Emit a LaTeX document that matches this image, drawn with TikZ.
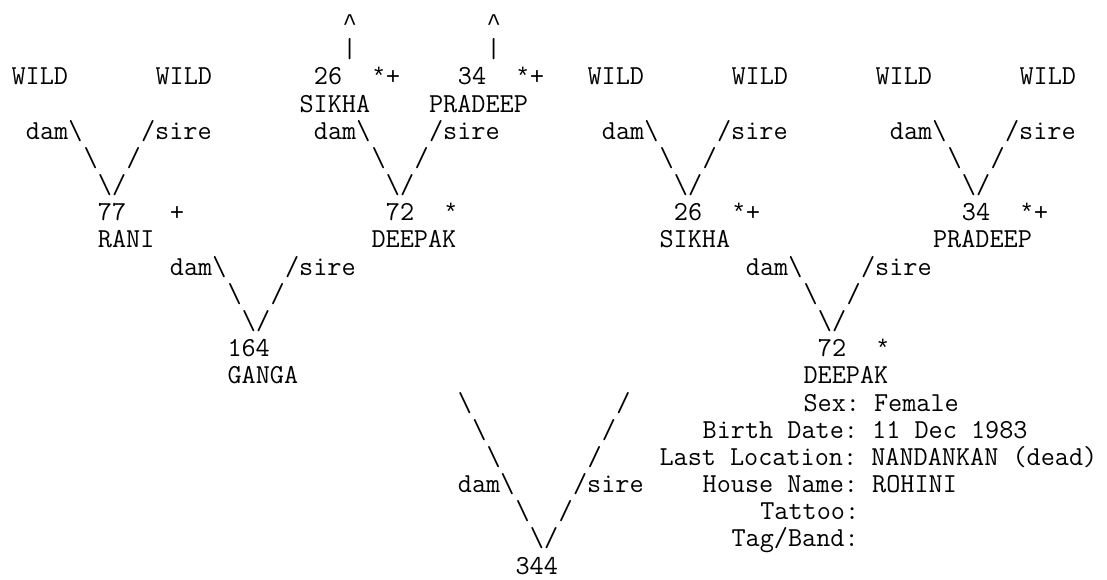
\documentclass[tikz,border=0pt]{standalone}
\usepackage{fontspec}
\newfontfamily\markfont{Liberation Mono}
\tikzstyle{asc}=[anchor=base west,inner sep=0pt,outer sep=0pt,text=black,font=\ttfamily\fontsize{20.5714}{22}\selectfont\frenchspacing]
\tikzstyle{mk}=[asc,font=\markfont\fontsize{18}{20}\selectfont]
\newcommand{\bs}{\textbackslash}
\begin{document}
\begin{tikzpicture}[x=10.8pt,y=-20.38pt]
\useasboundingbox (-8.625pt,22.95pt) rectangle (821.625pt,-411.3pt);
\node[mk] (up1) at (23,0) {\textasciicircum};
\node[mk] (up2) at (33,0) {\textasciicircum};
\node[asc] (bar1) at (23,1) {|};
\node[asc] (bar2) at (33,1) {|};
\node[asc] (wildA) at (0,2) {WILD};
\node[asc] (wildB) at (10,2) {WILD};
\node[asc] (idSikhaA) at (21,2) {26};
\node[mk] (flSikhaA) at (25,2) {*+};
\node[asc] (idPradeepA) at (31,2) {34};
\node[mk] (flPradeepA) at (35,2) {*+};
\node[asc] (wildC) at (40,2) {WILD};
\node[asc] (wildD) at (50,2) {WILD};
\node[asc] (wildE) at (60,2) {WILD};
\node[asc] (wildF) at (70,2) {WILD};
\node[asc] (nmSikhaA) at (20,3) {SIKHA};
\node[asc] (nmPradeepA) at (29,3) {PRADEEP};
\node[asc] (damA) at (1,4) {dam\bs};
\node[asc] (sireA) at (9,4) {/sire};
\node[asc] (damB) at (21,4) {dam\bs};
\node[asc] (sireB) at (29,4) {/sire};
\node[asc] (damC) at (41,4) {dam\bs};
\node[asc] (sireC) at (49,4) {/sire};
\node[asc] (damD) at (61,4) {dam\bs};
\node[asc] (sireD) at (69,4) {/sire};
\node[asc] (blA) at (5,5) {\bs};
\node[asc] (brA) at (8,5) {/};
\node[asc] (blB) at (25,5) {\bs};
\node[asc] (brB) at (28,5) {/};
\node[asc] (blC) at (45,5) {\bs};
\node[asc] (brC) at (48,5) {/};
\node[asc] (blD) at (65,5) {\bs};
\node[asc] (brD) at (68,5) {/};
\node[asc] (vA) at (6,6) {\bs/};
\node[asc] (vB) at (26,6) {\bs/};
\node[asc] (vC) at (46,6) {\bs/};
\node[asc] (vD) at (66,6) {\bs/};
\node[asc] (idRani) at (6,7) {77};
\node[mk] (flRani) at (11,7) {+};
\node[asc] (idDeepakA) at (26,7) {72};
\node[mk] (flDeepakA) at (30,7) {*};
\node[asc] (idSikhaB) at (46,7) {26};
\node[mk] (flSikhaB) at (50,7) {*+};
\node[asc] (idPradeepB) at (66,7) {34};
\node[mk] (flPradeepB) at (70,7) {*+};
\node[asc] (nmRani) at (6,8) {RANI};
\node[asc] (nmDeepakA) at (25,8) {DEEPAK};
\node[asc] (nmSikhaB) at (45,8) {SIKHA};
\node[asc] (nmPradeepB) at (64,8) {PRADEEP};
\node[asc] (damE) at (11,9) {dam\bs};
\node[asc] (sireE) at (19,9) {/sire};
\node[asc] (damF) at (51,9) {dam\bs};
\node[asc] (sireF) at (59,9) {/sire};
\node[asc] (blE) at (15,10) {\bs};
\node[asc] (brE) at (18,10) {/};
\node[asc] (blF) at (55,10) {\bs};
\node[asc] (brF) at (58,10) {/};
\node[asc] (vE) at (16,11) {\bs/};
\node[asc] (vF) at (56,11) {\bs/};
\node[asc] (idGanga) at (15,12) {164};
\node[asc] (idDeepakB) at (56,12) {72};
\node[mk] (flDeepakB) at (60,12) {*};
\node[asc] (nmGanga) at (15,13) {GANGA};
\node[asc] (nmDeepakB) at (55,13) {DEEPAK};
\node[asc] (blG1) at (31,14) {\bs};
\node[asc] (brG1) at (42,14) {/};
\node[asc] (blG2) at (32,15) {\bs};
\node[asc] (brG2) at (41,15) {/};
\node[asc] (blG3) at (33,16) {\bs};
\node[asc] (brG3) at (40,16) {/};
\node[asc] (damG) at (31,17) {dam\bs};
\node[asc] (sireG) at (39,17) {/sire};
\node[asc] (blG) at (35,18) {\bs};
\node[asc] (brG) at (38,18) {/};
\node[asc] (vG) at (36,19) {\bs/};
\node[asc] (idFocus) at (35,20) {344};
\node[asc] (sex) at (55,14) {Sex: Female};
\node[asc] (birth) at (48,15) {Birth Date: 11 Dec 1983};
\node[asc] (loc) at (45,16) {Last Location: NANDANKAN (dead)};
\node[asc] (house) at (48,17) {House Name: ROHINI};
\node[asc] (tattoo) at (52,18) {Tattoo:};
\node[asc] (tag) at (50,19) {Tag/Band:};
\end{tikzpicture}
\end{document}
